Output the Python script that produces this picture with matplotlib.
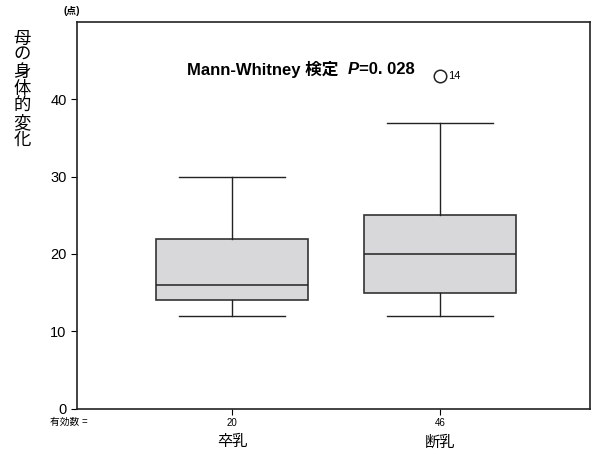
import matplotlib
matplotlib.use("Agg")
import matplotlib.pyplot as plt

plt.rcParams['font.family'] = ['Liberation Sans', 'Noto Sans CJK JP', 'DejaVu Sans']

groups = ['卒乳', '断乳']
counts = ['20', '46']
whisker_low = [12, 12]
q1 = [14, 15]
median = [16, 20]
q3 = [22, 25]
whisker_high = [30, 37]
outliers = [[], [43]]
outlier_ids = [[], ['14']]

stats = []
for i in range(len(groups)):
    stats.append(dict(whislo=whisker_low[i], q1=q1[i], med=median[i], q3=q3[i],
                      whishi=whisker_high[i], fliers=outliers[i]))

fig = plt.figure(figsize=(5.93, 4.54), dpi=100)
ax = fig.add_axes([0.1298, 0.100, 0.865, 0.8515])

positions = [1, 2]
ax.bxp(stats, positions=positions, widths=0.73, patch_artist=True,
       boxprops=dict(facecolor='#d8d8da', edgecolor='#333333', linewidth=1.2),
       medianprops=dict(color='#222222', linewidth=1.1),
       whiskerprops=dict(color='#222222', linewidth=1.0),
       capprops=dict(color='#222222', linewidth=1.0),
       capwidths=0.51,
       flierprops=dict(marker='o', markersize=9, markerfacecolor='white',
                       markeredgecolor='#222222', markeredgewidth=1.1))

for i, pos in enumerate(positions):
    for val, lab in zip(outliers[i], outlier_ids[i]):
        ax.text(pos + 0.04, val, lab, fontsize=8, va='center', ha='left')

ax.set_xlim(0.255, 2.72)
ax.set_ylim(0, 50)
ax.set_yticks([0, 10, 20, 30, 40])
ax.tick_params(axis='y', labelsize=10.5, length=4, direction='out')
ax.set_xticks(positions)
ax.set_xticklabels(counts, fontsize=7)
ax.tick_params(axis='x', length=4, direction='out', pad=3)
for s in ax.spines.values():
    s.set_linewidth(1.2)
    s.set_color('#222222')

# category names under the counts
for pos, g in zip(positions, groups):
    ax.text(pos, -0.087, g, transform=ax.get_xaxis_transform(), ha='center',
            va='center', fontsize=11)
fig.text(50 / 593, 1 - 422 / 454, '有効数 =', fontsize=7, ha='left', va='center')

# vertical y label
fig.text(22 / 593, 1 - 90 / 454, '\n'.join('母の身体的変化'), fontsize=12.5,
         ha='center', va='center', linespacing=1.08)
fig.text(72 / 593, 1 - 11 / 454, '(点)', fontsize=7, ha='center', va='center',
         fontweight='bold')

t1 = ax.text(0.214, 0.876, 'Mann-Whitney 検定', transform=ax.transAxes,
             fontsize=12, fontweight='bold', ha='left', va='center')
t2 = ax.annotate('P', xy=(1, 0.5), xycoords=t1, xytext=(7, 0),
                 textcoords='offset points', fontsize=12, style='italic',
                 fontweight='bold', ha='left', va='center')
ax.annotate('=0. 028', xy=(1, 0.5), xycoords=t2, xytext=(0, 0),
            textcoords='offset points', fontsize=12, fontweight='bold',
            ha='left', va='center')

fig.savefig('out.png', dpi=100)
